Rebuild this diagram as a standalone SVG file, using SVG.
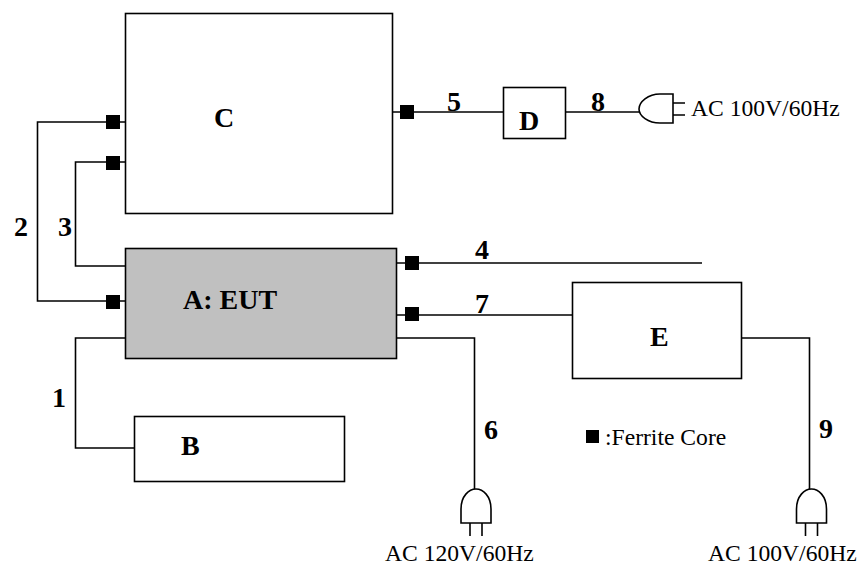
<svg xmlns="http://www.w3.org/2000/svg" width="861" height="566" viewBox="0 0 861 566">
<style>
.box{fill:#fff;stroke:#000;stroke-width:1.6}
.eut{fill:#c0c0c0;stroke:#000;stroke-width:1.6}
.w{fill:none;stroke:#000;stroke-width:1.6}
.plug{fill:#fff;stroke:#000;stroke-width:1.6}
.core{fill:#000}
text{font-family:"Liberation Serif","Times New Roman",serif;fill:#000}
.b{font-weight:bold;font-size:28px}
.n{font-size:23.6px}
</style>
<defs>
<path id="plugv" d="M0 35V21C0 8 8 1 15 1C22 1 30 8 30 21V35ZM9 35V48M21 35V48"/>
</defs>
<rect width="861" height="566" fill="#fff"/>
<g id="connectors">
<path class="w" d="M126 122H37.500V301H126"/>
<path class="w" d="M126 162H75.500V266H126"/>
<path class="w" d="M126 338H75.500V448H135"/>
<path class="w" d="M393 112H503"/>
<path class="w" d="M565 112H639"/>
<path class="w" d="M396 263H702"/>
<path class="w" d="M396 315H573"/>
<path class="w" d="M396 338H474.500V489"/>
<path class="w" d="M742 338H809.500V489"/>
</g>
<g id="node-c"><rect class="box" x="125.500" y="13.500" width="267" height="200"/><text class="b" x="214" y="127">C</text></g>
<g id="node-a"><rect class="eut" x="125.500" y="248.500" width="271" height="110"/><text class="b" x="183" y="309">A: EUT</text></g>
<g id="node-b"><rect class="box" x="134.500" y="416.500" width="210" height="65"/><text class="b" x="181" y="455">B</text></g>
<g id="node-d"><rect class="box" x="503.500" y="87.500" width="62" height="51"/><text class="b" x="519" y="130">D</text></g>
<g id="node-e"><rect class="box" x="572.500" y="282.500" width="169" height="96"/><text class="b" x="650" y="346">E</text></g>
<g id="plug-8"><path class="plug" d="M673 94H660C648 94 639 102 639 109C639 116 648 123 660 123H673ZM673 103H685M673 115H685"/><text class="n" x="691" y="116">AC 100V/60Hz</text></g>
<g id="plug-6"><use class="plug" href="#plugv" x="461" y="488"/><text class="n" x="385" y="561">AC 120V/60Hz</text></g>
<g id="plug-9"><use class="plug" href="#plugv" x="796.500" y="488"/><text class="n" x="708" y="561">AC 100V/60Hz</text></g>
<g id="cores">
<rect class="core" x="106" y="115" width="14" height="14"/>
<rect class="core" x="106" y="156" width="14" height="14"/>
<rect class="core" x="106" y="295" width="14" height="14"/>
<rect class="core" x="400" y="105" width="14" height="14"/>
<rect class="core" x="405" y="256" width="14" height="14"/>
<rect class="core" x="405" y="307" width="14" height="14"/>
<rect class="core" x="586" y="430" width="13" height="13"/>
</g>
<g id="labels">
<text class="b" x="52" y="407">1</text>
<text class="b" x="14" y="236">2</text>
<text class="b" x="58" y="236">3</text>
<text class="b" x="475" y="259">4</text>
<text class="b" x="447" y="111">5</text>
<text class="b" x="484" y="439">6</text>
<text class="b" x="475" y="313">7</text>
<text class="b" x="591" y="111">8</text>
<text class="b" x="819" y="438">9</text>
<text class="n" x="605" y="445">:Ferrite Core</text>
</g>
</svg>
